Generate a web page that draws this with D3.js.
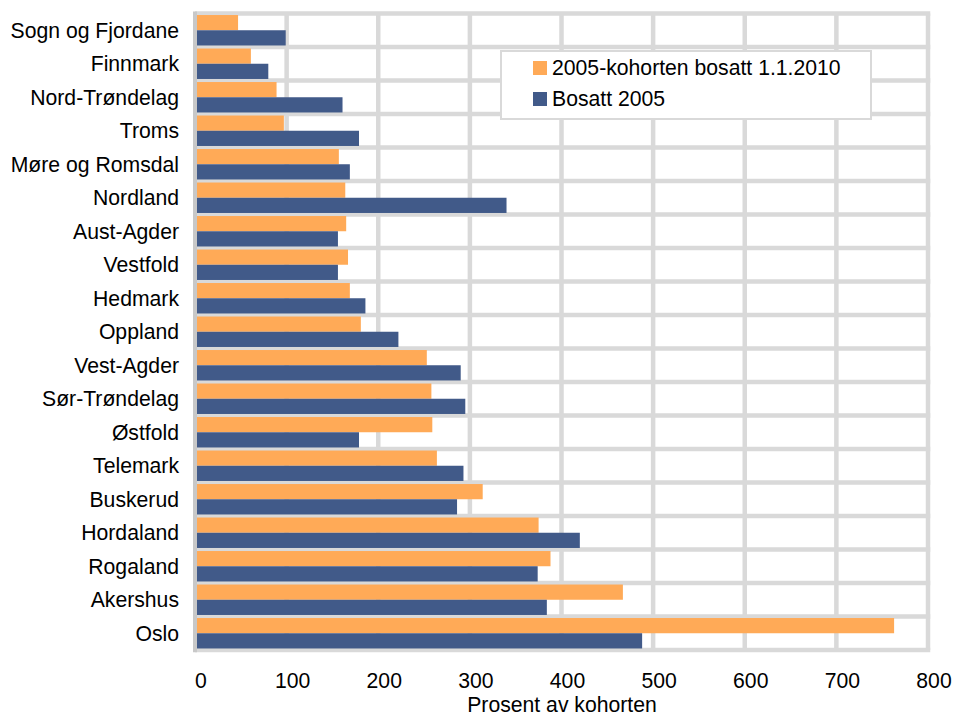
<!DOCTYPE html>
<html><head><meta charset="utf-8">
<script src="https://cdn.jsdelivr.net/npm/d3@7/dist/d3.min.js"></script>
<style>body{margin:0;background:#fff}svg{display:block;font-family:"Liberation Sans",Arial,sans-serif}</style>
</head><body><svg id="c" width="954" height="717"></svg>
<script>
const categories = ["Sogn og Fjordane","Finnmark","Nord-Trøndelag","Troms","Møre og Romsdal","Nordland","Aust-Agder","Vestfold","Hedmark","Oppland","Vest-Agder","Sør-Trøndelag","Østfold","Telemark","Buskerud","Hordaland","Rogaland","Akershus","Oslo"];
const cohort2010 = [47,61,89,97,157,164,165,167,169,181,253,258,259,264,314,375,388,467,763];
const bosatt2005 = [99,80,161,179,169,340,156,156,186,222,290,295,179,293,286,420,374,384,488];
const seriesNames = ["2005-kohorten bosatt 1.1.2010","Bosatt 2005"];
const xTicks = [0,100,200,300,400,500,600,700,800];
const xTitle = "Prosent av kohorten";

const colors = ["#FFAA57","#415A89"];
const grid = "#d9d9d9";
const fs = 21.2;
const svg = d3.select("#c");
const L = 195, R = 928, T = 13.5, B = 650;
const x = d3.scaleLinear().domain([0,800]).range([L,R]);
const y = d3.scaleBand().domain(categories).range([T,B]).paddingInner(0).paddingOuter(0);
const inner = d3.scaleBand().domain([0,1]).range([0,y.bandwidth()]).paddingOuter(0.1);

// gridlines
const g = svg.append("g");
g.selectAll("line.v").data(xTicks.slice(1)).join("line")
  .attr("x1",d=>x(d)).attr("x2",d=>x(d)).attr("y1",T).attr("y2",B)
  .attr("stroke",grid).attr("stroke-width",4.5);
const hLines = categories.map(c=>y(c)).concat([B]);
g.selectAll("line.h").data(hLines).join("line")
  .attr("x1",L).attr("x2",R+2.25).attr("y1",d=>d).attr("y2",d=>d)
  .attr("stroke",grid).attr("stroke-width",4.5);

// bars
const series = [cohort2010,bosatt2005];
series.forEach((vals,si)=>{
  svg.append("g").selectAll("rect").data(vals).join("rect")
    .attr("x",x(0)).attr("y",(d,i)=>y(categories[i])+inner(si))
    .attr("width",d=>x(d)-x(0)).attr("height",inner.bandwidth())
    .attr("fill",colors[si]);
});

// left axis line
svg.append("line").attr("x1",L).attr("x2",L).attr("y1",T-2).attr("y2",B+2.25)
  .attr("stroke","#c8c8c8").attr("stroke-width",4);

// category labels
svg.append("g").selectAll("text").data(categories).join("text")
  .attr("x",179).attr("y",d=>y(d)+y.bandwidth()/2).attr("dy","0.35em")
  .attr("text-anchor","end").attr("font-size",fs).attr("fill","#000").text(d=>d);

// x tick labels
svg.append("g").selectAll("text").data(xTicks).join("text")
  .attr("x",d=>x(d)+6).attr("y",688).attr("text-anchor","middle")
  .attr("font-size",fs).attr("fill","#000").text(d=>d);

svg.append("text").attr("x",562).attr("y",712).attr("text-anchor","middle")
  .attr("font-size",fs).attr("fill","#000").text(xTitle);

// legend
const lg = svg.append("g");
lg.append("rect").attr("x",501).attr("y",51).attr("width",370).attr("height",68)
  .attr("fill","#fff").attr("stroke",grid).attr("stroke-width",2);
seriesNames.forEach((n,i)=>{
  const by = 75 + i*31;
  lg.append("rect").attr("x",533).attr("y",by-14).attr("width",14).attr("height",14).attr("fill",colors[i]);
  lg.append("text").attr("x",552).attr("y",by).attr("font-size",fs).attr("fill","#000").text(n);
});
</script></body></html>
